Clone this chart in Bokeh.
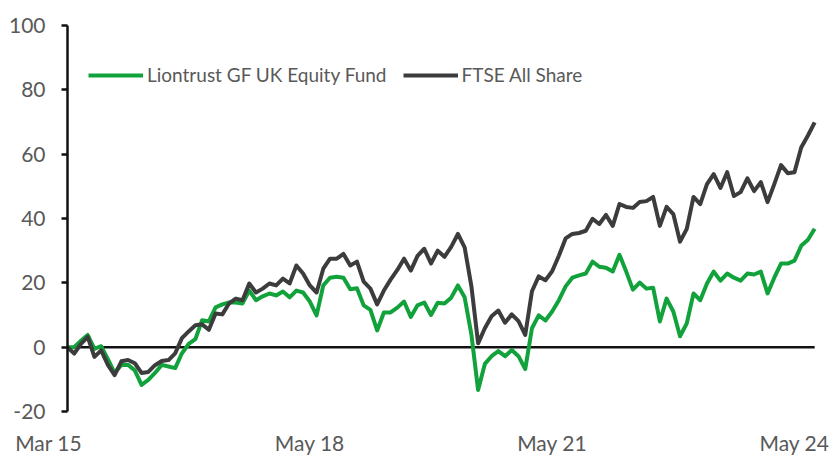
from bokeh.plotting import figure
from bokeh.models import Range1d, FixedTicker, Legend, LegendItem
from bokeh.embed import file_html
from bokeh.resources import INLINE

# ---- data (cumulative % return, monthly, Mar 2015 onwards) ----
fund = [0, 0, 2, 3.8, -0.5, 0.3, -3.7, -8, -5.5, -5.5,
        -7.2, -11.7, -10.2, -8, -5.5, -6, -6.5, -1.9, 1, 2.5,
        8.4, 8, 12.4, 13.3, 13.9, 13.9, 13.6, 17.6, 14.6, 15.8,
        16.7, 16.1, 17.3, 15.5, 17.6, 17, 14.2, 9.9, 19.2, 21.6,
        21.9, 21.6, 18, 18.3, 13, 11.6, 5.2, 10.8, 10.8, 12.3,
        14.2, 9.4, 13, 13.9, 10, 13.8, 13.6, 15.4, 19.2, 15.5,
        4, -13.3, -5.2, -2.8, -1.2, -2.8, -0.9, -2.8, -6.8, 5.9,
        9.9, 8.3, 11.1, 14.6, 18.9, 21.6, 22.3, 22.9, 26.6, 25,
        24.7, 23.5, 28.7, 23.5, 17.9, 20.1, 18.2, 18.5, 8, 15.1,
        11.1, 3.4, 7.4, 16.7, 14.6, 19.8, 23.5, 20.7, 22.9, 21.6,
        20.7, 22.9, 22.6, 23.5, 16.7, 21.6, 26, 26, 26.9, 31.5,
        33.4, 36.8]
ftse = [0, -2, 1, 3.2, -3, -1, -5.5, -8.7, -4.4, -4,
        -5, -8, -7.7, -5.6, -4.3, -4, -1.9, 2.8, 4.9, 6.8,
        7.1, 5.4, 10.5, 10.2, 13.6, 15.1, 14.6, 19.8, 17, 18.2,
        19.8, 19.2, 21.3, 19.8, 25.4, 22.9, 19.2, 17, 24.4, 27.5,
        27.5, 29, 25.4, 26.6, 20.4, 18.2, 13.3, 17.6, 21, 24,
        27.5, 23.8, 28.4, 30.6, 26, 30, 28.1, 31.2, 35.2, 31,
        19, 1.2, 5.9, 9.6, 11.4, 7.6, 10.2, 8.1, 3.8, 17.4,
        22, 20.8, 23.6, 28.4, 33.8, 35.2, 35.5, 36.2, 39.9, 38.3,
        41.1, 37.7, 44.5, 43.6, 43.3, 45.1, 45.4, 46.7, 37.7, 43.6,
        41.4, 32.8, 36.8, 46.7, 44.5, 50.7, 53.8, 49.5, 54.4, 47,
        48.2, 52.5, 48.5, 51.3, 45.1, 50.7, 56.6, 54.1, 54.4, 62.1,
        65.8, 69.9]
series_names = ["Liontrust GF UK Equity Fund", "FTSE All Share"]
y_ticks = [-20, 0, 20, 40, 60, 80, 100]
y_tick_labels = ["-20", "0", "20", "40", "60", "80", "100"]
x_tick_idx = [0, 38, 74, 110]          # month index of each date label
x_tick_labels = ["Mar 15", "May 18", "May 21", "May 24"]

months = list(range(len(fund)))

FONT = "Lato"
TEXT_COLOR = "#595959"
GREEN = "#12A23B"
GREY = "#3C3C3C"

W, H = 832, 457
BORDER_L, BORDER_R, BORDER_T, BORDER_B = 67, 1, 25, 40
# frame spans a little below -20 so the date labels sit lower, axis line stops at -20
px_per_unit = (H - BORDER_T - BORDER_B - 4) / (y_ticks[-1] - y_ticks[0])
y_bottom = y_ticks[0] - 4 / px_per_unit
LABEL_SHIFT = -2   # date labels are centred ~2 months before their date

p = figure(width=W, height=H, output_backend="svg", toolbar_location=None,
           x_range=Range1d(0, len(fund) + 1.5), y_range=Range1d(y_bottom, y_ticks[-1]),
           min_border_left=BORDER_L, min_border_right=BORDER_R,
           min_border_top=BORDER_T, min_border_bottom=BORDER_B)
p.outline_line_color = None
p.grid.grid_line_color = None
p.background_fill_color = "white"

# zero reference line
p.segment(x0=[months[0]], y0=[0], x1=[months[-1]], y1=[0],
          line_color="#111111", line_width=2.5)

r_fund = p.line(months, fund, line_color=GREEN, line_width=4, line_join="round")
r_ftse = p.line(months, ftse, line_color=GREY, line_width=4, line_join="round")

yax = p.yaxis[0]
yax.ticker = FixedTicker(ticks=y_ticks)
yax.major_label_overrides = dict(zip(y_ticks, y_tick_labels))
yax.bounds = (y_ticks[0], y_ticks[-1])
yax.axis_line_color = "#111111"
yax.axis_line_width = 2.5
yax.major_tick_line_color = "#111111"
yax.major_tick_line_width = 2.5
yax.major_tick_out = 6
yax.major_tick_in = 0
yax.minor_tick_line_color = None
yax.major_label_text_font = FONT
yax.major_label_text_font_size = "21px"
yax.major_label_text_color = TEXT_COLOR
yax.major_label_standoff = 16

# ticks cannot sit left of the frame, so the first label is padded on its right
xt = [max(0, i + LABEL_SHIFT) for i in x_tick_idx]
pad = "\u00a0" * 7
xlabels = [lab + (pad if t == 0 else "") for lab, t in zip(x_tick_labels, xt)]
xax = p.xaxis[0]
xax.ticker = FixedTicker(ticks=xt)
xax.major_label_overrides = dict(zip(xt, xlabels))
xax.axis_line_color = None
xax.major_tick_line_color = None
xax.minor_tick_line_color = None
xax.major_tick_out = 0
xax.major_tick_in = 0
xax.major_label_standoff = 14
xax.major_label_text_font = FONT
xax.major_label_text_font_size = "21px"
xax.major_label_text_color = TEXT_COLOR

legend = Legend(items=[LegendItem(label=series_names[0], renderers=[r_fund]),
                       LegendItem(label=series_names[1], renderers=[r_ftse])],
                orientation="horizontal", location=(21, 329),
                border_line_color=None, background_fill_alpha=0,
                padding=0, margin=0, spacing=16, label_standoff=4,
                glyph_width=55, glyph_height=20,
                label_text_font=FONT, label_text_font_size="19px",
                label_text_color=TEXT_COLOR)
p.add_layout(legend)

open("out.html", "w").write(file_html(p, INLINE))
